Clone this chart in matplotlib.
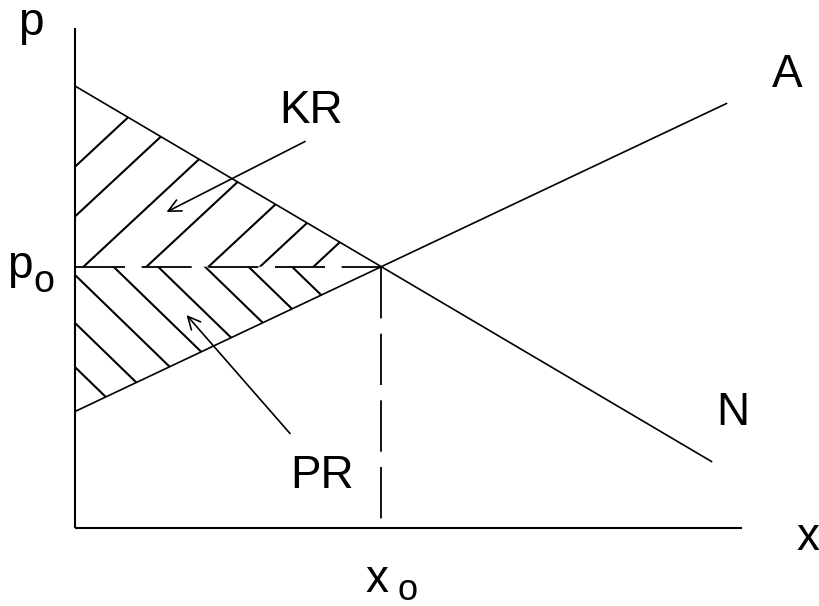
import matplotlib
matplotlib.use('Agg')
import matplotlib.pyplot as plt
from matplotlib.patches import Polygon
import numpy as np

plt.rcParams['font.family'] = ['Liberation Sans', 'DejaVu Sans']
plt.rcParams['lines.scale_dashes'] = False

# ---- data (arbitrary schematic units) ----
demand_x = [0.0, 12.73]          # N curve
demand_p = [8.84, 1.33]
supply_x = [0.0, 13.03]          # A curve
supply_p = [2.33, 8.49]
axis_x_max = 13.34
axis_p_max = 10.0

# hatch lines: x position where each line crosses the p_o level
upper_hatch_base = [-2.15, -1.08, 0.17, 1.43, 2.67, 3.70, 4.77]
upper_hatch_slope = 0.93
lower_hatch_base = [-2.07, -1.16, -0.17, 0.77, 1.66, 2.60, 3.47, 4.34]
lower_hatch_slope = -0.97

# annotation arrows (tail -> head)
kr_tail = [4.60, 7.73]
kr_head = [1.83, 6.32]
pr_tail = [4.30, 1.89]
pr_head = [2.23, 4.26]

labels = {
    'p': (-0.88, 9.86),
    'x': (14.65, -0.44),
    'A': (14.24, 8.82),
    'N': (13.16, 2.06),
    'KR': (4.73, 8.10),
    'PR': (4.95, 0.80),
}

# ---- equilibrium ----
d_slope = (demand_p[1] - demand_p[0]) / (demand_x[1] - demand_x[0])
s_slope = (supply_p[1] - supply_p[0]) / (supply_x[1] - supply_x[0])
x0 = (demand_p[0] - supply_p[0]) / (s_slope - d_slope)
p0 = supply_p[0] + s_slope * x0

fig = plt.figure(figsize=(8.19, 6.06), dpi=100)
fig.patch.set_facecolor('white')
ax = fig.add_axes([0, 0, 1, 1])
ax.set_xlim(-1.5, 14.88)
ax.set_ylim(-1.56, 10.56)
ax.axis('off')

k = 'black'
# axes
ax.plot([0, 0], [0, axis_p_max], color=k, lw=1.5, solid_capstyle='butt')
ax.plot([0, axis_x_max], [0, 0], color=k, lw=1.5, solid_capstyle='butt')

# curves
ax.plot(demand_x, demand_p, color=k, lw=1.2)
ax.plot(supply_x, supply_p, color=k, lw=1.2)

# dashed guides
ax.plot([0, x0], [p0, p0], color=k, lw=1.3, dashes=(36, 12))
ax.plot([x0, x0], [p0, 0], color=k, lw=1.3, dashes=(37, 11))

# hatching
upper_poly = Polygon([[0, p0], [0, demand_p[0]], [x0, p0]], closed=True,
                     transform=ax.transData, fill=False)
lower_poly = Polygon([[0, p0], [x0, p0], [0, supply_p[0]]], closed=True,
                     transform=ax.transData, fill=False)
for b in upper_hatch_base:
    xs = np.array([b - 5, b + 10])
    ln, = ax.plot(xs, p0 + upper_hatch_slope * (xs - b), color=k, lw=1.5)
    ln.set_clip_path(upper_poly)
for b in lower_hatch_base:
    xs = np.array([b - 5, b + 10])
    ln, = ax.plot(xs, p0 + lower_hatch_slope * (xs - b), color=k, lw=1.5)
    ln.set_clip_path(lower_poly)

# arrows
ap = dict(arrowstyle='->,head_length=0.45,head_width=0.22', lw=1.2,
          color=k, shrinkA=0, shrinkB=0, mutation_scale=20)
ax.annotate('', xy=kr_head, xytext=kr_tail, arrowprops=ap)
ax.annotate('', xy=pr_head, xytext=pr_tail, arrowprops=ap)

# labels
fs = 33
for t, (tx, ty) in labels.items():
    ax.text(tx, ty, t, fontsize=fs, ha='center', va='baseline', color=k)

# p_o and x_o
ax.text(-1.11, 5.0, 'p', fontsize=fs, ha='center', va='baseline', color=k)
ax.text(-0.62, 4.72, 'o', fontsize=27, ha='center', va='baseline', color=k)
ax.text(x0 - 0.08, -1.29, 'x', fontsize=fs, ha='center', va='baseline', color=k)
ax.text(x0 + 0.53, -1.43, 'o', fontsize=26, ha='center', va='baseline', color=k)

fig.savefig('out.png', dpi=100, facecolor='white')
